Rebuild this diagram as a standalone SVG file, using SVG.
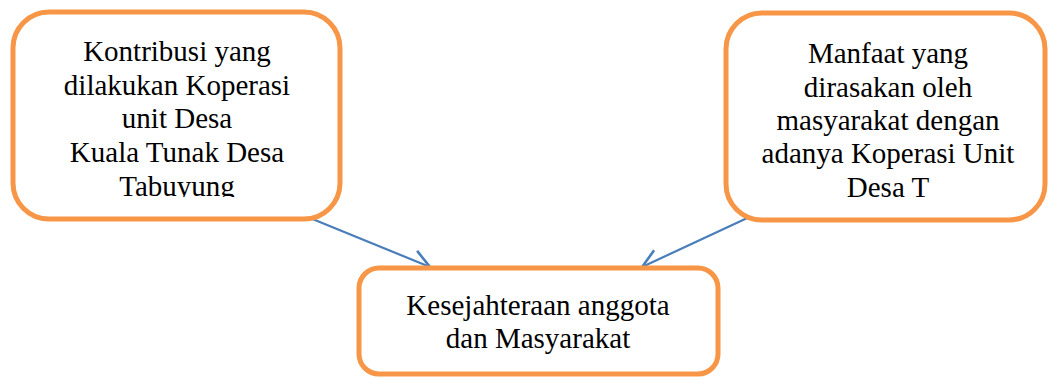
<svg xmlns="http://www.w3.org/2000/svg" width="1048" height="377" viewBox="0 0 1048 377">
<style>
.box{fill:#fff;stroke:#f79646;stroke-width:5}
.t{font-family:"Liberation Serif",serif;font-size:29px;fill:#000;text-anchor:middle}
.c{stroke:#4a7ebb;stroke-width:2.2;fill:none}
</style>
<defs>
<marker id="ah" viewBox="0 0 22 24" refX="19" refY="12" markerWidth="22" markerHeight="24" markerUnits="userSpaceOnUse" orient="auto">
<path d="M1,2 L19,12 L1,22" fill="none" stroke="#4a7ebb" stroke-width="2.6"/>
</marker>
<clipPath id="clip1"><rect x="15" y="14" width="323" height="183"/></clipPath>
</defs>
<rect width="1048" height="377" fill="#fff"/>
<g id="connectors">
<line class="c" x1="310" y1="218" x2="430" y2="267" marker-end="url(#ah)"/>
<line class="c" x1="758" y1="213" x2="642" y2="267" marker-end="url(#ah)"/>
</g>
<g id="node1">
<rect class="box" x="13" y="12" width="327" height="207" rx="36"/>
<g clip-path="url(#clip1)">
<text class="t" x="177" y="61">Kontribusi yang</text>
<text class="t" x="177" y="95">dilakukan Koperasi</text>
<text class="t" x="177" y="128">unit Desa</text>
<text class="t" x="177" y="162">Kuala Tunak Desa</text>
<text class="t" x="177" y="196">Tabuyung</text>
</g>
</g>
<g id="node2">
<rect class="box" x="726" y="13" width="319" height="207" rx="36"/>
<text class="t" x="888" y="63">Manfaat yang</text>
<text class="t" x="888" y="97">dirasakan oleh</text>
<text class="t" x="888" y="130">masyarakat dengan</text>
<text class="t" x="888" y="163">adanya Koperasi Unit</text>
<text class="t" x="888" y="197">Desa T</text>
</g>
<g id="node3">
<rect class="box" x="359" y="268" width="359" height="106" rx="20"/>
<text class="t" x="538" y="315">Kesejahteraan anggota</text>
<text class="t" x="538" y="348">dan Masyarakat</text>
</g>
</svg>
